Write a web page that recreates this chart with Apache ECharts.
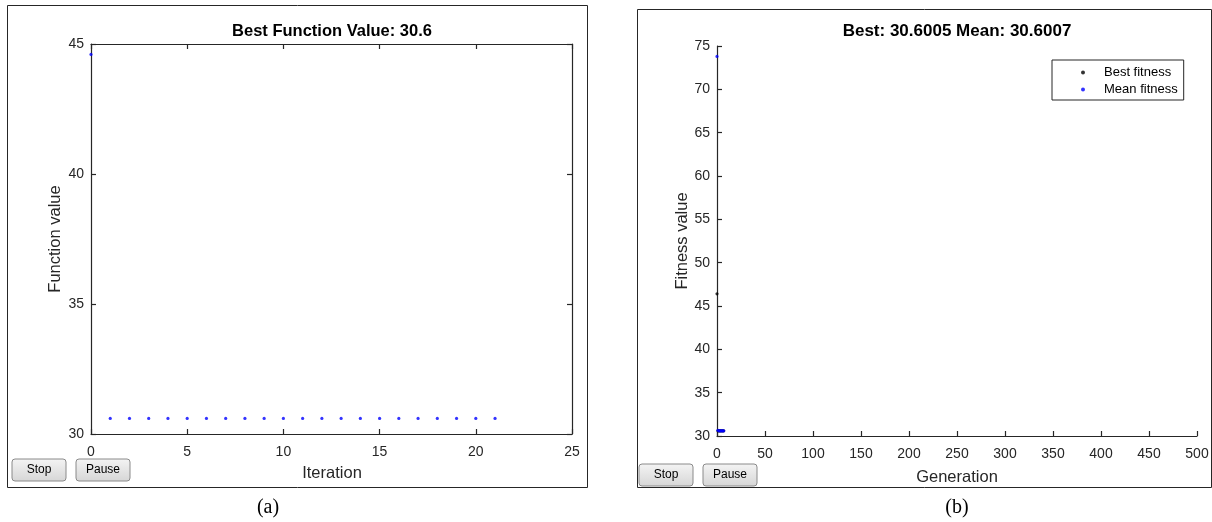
<!DOCTYPE html>
<html><head><meta charset="utf-8">
<script src="https://cdn.jsdelivr.net/npm/echarts@6/dist/echarts.min.js"></script>
<style>html,body{margin:0;padding:0;background:#fff}#c{width:1212px;height:522px}</style>
</head><body><div id="c"></div>
<script>
// ---- data ----
const iterX = [0,1,2,3,4,5,6,7,8,9,10,11,12,13,14,15,16,17,18,19,20,21];
const funcVals = [44.6,30.6,30.6,30.6,30.6,30.6,30.6,30.6,30.6,30.6,30.6,30.6,30.6,30.6,30.6,30.6,30.6,30.6,30.6,30.6,30.6,30.6];
const genX = [0,1,2,3,4,5,6,7];
const bestFit = [46.4,30.6,30.6,30.6,30.6,30.6,30.6,30.6];
const meanFit = [73.8,30.65,30.6,30.6,30.6,30.6,30.6,30.6];
const leftTitle = 'Best Function Value: 30.6';
const rightTitle = 'Best: 30.6005 Mean: 30.6007';

const font = '"Liberation Sans", Arial, sans-serif';
const lblColor = '#262626';
function axisCommon(show, isX){
  return {
    axisLine:{show:true,onZero:false,lineStyle:{color:'#262626',width:1.2}},
    axisTick:{show:true,inside:true,length:5,lineStyle:{color:'#262626',width:1.2}},
    axisLabel:{show:show,color:lblColor,fontFamily:font,fontSize:14,margin:isX?11:7},
    splitLine:{show:false}
  };
}
function button(x,y,label){
  return {type:'group',x:x,y:y,children:[
    {type:'rect',shape:{x:0,y:0,width:54,height:22,r:3},
     style:{fill:{type:'linear',x:0,y:0,x2:0,y2:1,colorStops:[{offset:0,color:'#f4f4f4'},{offset:1,color:'#d6d6d6'}]},stroke:'#8a8a8a',lineWidth:1}},
    {type:'text',x:27,y:11,style:{text:label,fill:'#000',font:'12px '+font,align:'center',verticalAlign:'middle'}}
  ]};
}
const chart = echarts.init(document.getElementById('c'),null,{renderer:'canvas'});
chart.setOption({
  animation:false,
  backgroundColor:'#fff',
  title:[
    {text:leftTitle,left:332,top:23,padding:0,textAlign:'center',textStyle:{fontFamily:font,fontSize:16.5,fontWeight:'bold',color:'#000'}},
    {text:rightTitle,left:957,top:23,padding:0,textAlign:'center',textStyle:{fontFamily:font,fontSize:17,fontWeight:'bold',color:'#000'}}
  ],
  legend:{
    data:['Best fitness','Mean fitness'],
    left:1052,top:60,orient:'vertical',
    borderColor:'#262626',borderWidth:1,padding:[5,6,3,29],itemGap:2,
    itemWidth:4,itemHeight:4,icon:'circle',
    textStyle:{fontFamily:font,fontSize:13,lineHeight:15,color:'#000',padding:[0,0,0,14]}
  },
  grid:[
    {left:91,top:44,width:481,height:390},
    {left:717,top:46,width:480,height:390}
  ],
  xAxis:[
    Object.assign({gridIndex:0,type:'value',min:0,max:25,interval:5,position:'bottom'},axisCommon(true,true)),
    Object.assign({gridIndex:0,type:'value',min:0,max:25,interval:5,position:'top'},axisCommon(false,true)),
    Object.assign({gridIndex:1,type:'value',min:0,max:500,interval:50,position:'bottom'},axisCommon(true,true))
  ],
  yAxis:[
    Object.assign({gridIndex:0,type:'value',min:30,max:45,interval:5,position:'left'},axisCommon(true,false)),
    Object.assign({gridIndex:0,type:'value',min:30,max:45,interval:5,position:'right'},axisCommon(false,false)),
    Object.assign({gridIndex:1,type:'value',min:30,max:75,interval:5,position:'left'},axisCommon(true,false))
  ],
  series:[
    {type:'scatter',xAxisIndex:0,yAxisIndex:0,data:iterX.map((x,i)=>[x,funcVals[i]]),symbolSize:3.2,itemStyle:{color:'#0000ff'}},
    {name:'Best fitness',type:'scatter',xAxisIndex:2,yAxisIndex:2,data:genX.map((x,i)=>[x,bestFit[i]]),symbolSize:3.2,itemStyle:{color:'#000'}},
    {name:'Mean fitness',type:'scatter',xAxisIndex:2,yAxisIndex:2,data:genX.map((x,i)=>[x,meanFit[i]]),symbolSize:3.2,itemStyle:{color:'#0000ff'}}
  ],
  graphic:[
    {type:'rect',shape:{x:7.5,y:5.5,width:580,height:482},style:{fill:null,stroke:'#262626',lineWidth:1},silent:true},
    {type:'rect',shape:{x:637.5,y:9.5,width:574,height:478},style:{fill:null,stroke:'#262626',lineWidth:1},silent:true},
    {type:'text',x:55,y:239,rotation:Math.PI/2,style:{text:'Function value',fill:lblColor,font:'16.5px '+font,align:'center',verticalAlign:'middle'}},
    {type:'text',x:682,y:241,rotation:Math.PI/2,style:{text:'Fitness value',fill:lblColor,font:'16.5px '+font,align:'center',verticalAlign:'middle'}},
    {type:'text',x:332,y:473,style:{text:'Iteration',fill:lblColor,font:'16.5px '+font,align:'center',verticalAlign:'middle'}},
    {type:'text',x:957,y:477,style:{text:'Generation',fill:lblColor,font:'16.5px '+font,align:'center',verticalAlign:'middle'}},
    {type:'text',x:268,y:508,style:{text:'(a)',fill:'#000',font:'20px "Liberation Serif", "Times New Roman", serif',align:'center',verticalAlign:'middle'}},
    {type:'text',x:957,y:508,style:{text:'(b)',fill:'#000',font:'20px "Liberation Serif", "Times New Roman", serif',align:'center',verticalAlign:'middle'}},
    button(12,459,'Stop'),
    button(76,459,'Pause'),
    button(639,464,'Stop'),
    button(703,464,'Pause')
  ]
});
</script></body></html>
